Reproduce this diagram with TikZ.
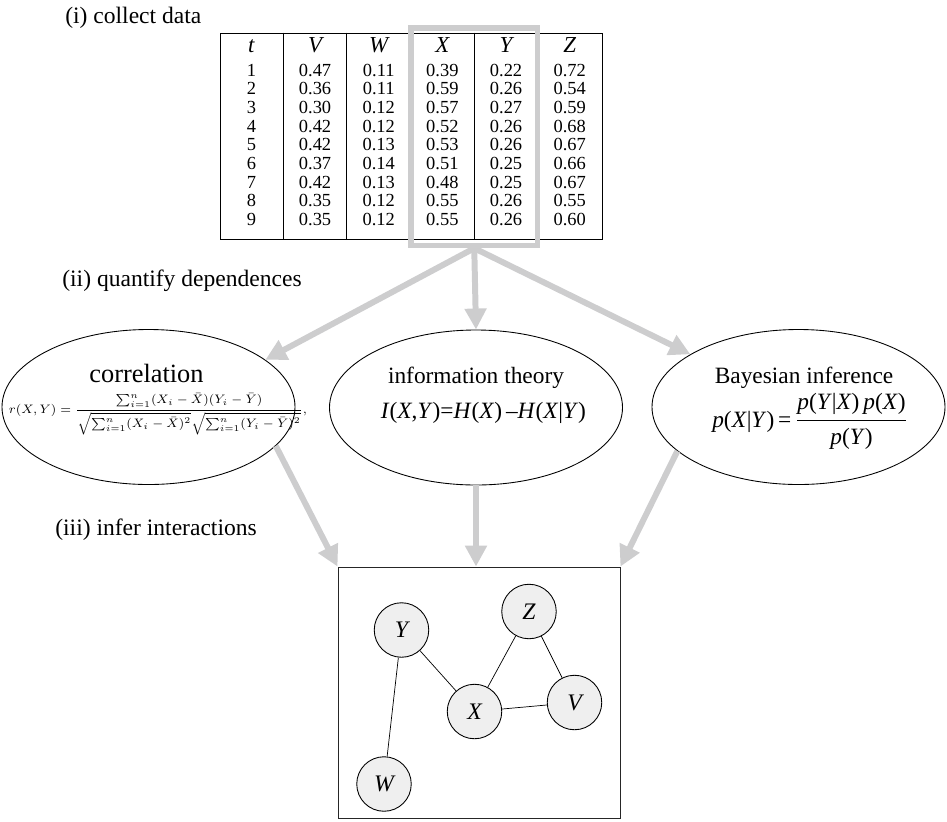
\documentclass[tikz,border=0pt]{standalone}
\usepackage{amsmath}
\usepackage{fontspec}
\setmainfont{Liberation Serif}
\usetikzlibrary{arrows.meta, shapes.geometric, calc}

\definecolor{flowgray}{RGB}{205,205,206}
\definecolor{vargray}{RGB}{239,239,239}
\newcommand{\iv}[1]{\textit{#1}}

\tikzset{
  flow/.style={draw=flowgray, line width=3.4pt, -{Triangle[length=0.42cm, width=0.42cm]}},
  method/.style={ellipse, draw, line width=0.5pt, minimum width=5.86cm, minimum height=3.1cm, inner sep=0pt},
  var/.style={circle, draw, line width=0.5pt, fill=vargray, minimum size=1.09cm, inner sep=0pt, font=\fontsize{13.5}{15}\selectfont\itshape},
  stage/.style={anchor=base west, inner sep=0pt, font=\fontsize{13.4}{16}\selectfont},
  cell/.style={anchor=base, inner sep=0pt, font=\fontsize{10.5}{12}\selectfont},
  title/.style={anchor=base, inner sep=0pt, font=\fontsize{13.3}{16}\selectfont},
}

\begin{document}
\begin{tikzpicture}
    \useasboundingbox (0,0) rectangle (18.94,-16.42);
    \node[stage] (collect) at (1.30,-0.47) {(i) collect data};
    \node[stage] (quantify) at (1.24,-5.73) {(ii) quantify dependences};
    \node[stage] (infer) at (1.10,-10.70) {(iii) infer interactions};

    \node[draw, line width=0.5pt, minimum width=7.64cm, minimum height=4.12cm, inner sep=0pt] (data) at (8.22,-2.72) {};
    \foreach \k in {1,...,5}
      \draw[line width=0.5pt] ($(data.north west)+(\k*1.2733,0)$) -- ($(data.south west)+(\k*1.2733,0)$);
    \foreach \h [count=\c] in {t,V,W,X,Y,Z}
      \node[cell, font=\fontsize{13}{14}\selectfont\itshape] (head-\c) at ($(data.north west)+({\c*1.2733-0.6367},-0.40)$) {\h};
    \foreach \row [count=\r] in {{1,0.47,0.11,0.39,0.22,0.72},{2,0.36,0.11,0.59,0.26,0.54},{3,0.30,0.12,0.57,0.27,0.59},{4,0.42,0.12,0.52,0.26,0.68},{5,0.42,0.13,0.53,0.26,0.67},{6,0.37,0.14,0.51,0.25,0.66},{7,0.42,0.13,0.48,0.25,0.67},{8,0.35,0.12,0.55,0.26,0.55},{9,0.35,0.12,0.55,0.26,0.60}}
      \foreach \val [count=\c] in \row
        \node[cell] (cell-\r-\c) at ($(data.north west)+({\c*1.2733-0.6367},{-0.5007-\r*0.3733})$) {\val};
    \node[draw=flowgray, line width=3.1pt, minimum width=2.53cm, minimum height=4.35cm, inner sep=0pt] (sel) at (9.485,-2.735) {};

    \node[method] (corr) at (2.97,-8.14) {};
    \node[method] (info) at (9.52,-8.15) {};
    \node[method] (bayes) at (15.97,-8.14) {};
    \node[title, font=\fontsize{15}{18}\selectfont] (corrname) at (2.93,-7.64) {correlation};
    \node[title, font=\fontsize{7}{8}\selectfont] (corrfml) at (3.16,-8.26)
      {$r(X,Y)=\dfrac{\sum_{i=1}^{n}(X_i-\bar{X})(Y_i-\bar{Y})}{\sqrt{\sum_{i=1}^{n}(X_i-\bar{X})^2}\sqrt{\sum_{i=1}^{n}(Y_i-\bar{Y})^2}},$};
    \node[title] (infoname) at (9.52,-7.66) {information theory};
    \node[title] (infofml) at (9.67,-8.36) {\iv{I}(\iv{X},\iv{Y})=\iv{H}(\iv{X})\,–\iv{H}(\iv{X}|\iv{Y})};
    \node[title] (bayesname) at (16.08,-7.66) {Bayesian inference};
    \node[title] (bayesfml) at (16.2,-8.54) {\iv{p}(\iv{X}|\iv{Y})\,=\,$\dfrac{\text{\iv{p}(\iv{Y}|\iv{X})\,\iv{p}(\iv{X})}}{\text{\iv{p}(\iv{Y})}}$};

    \node[draw=black!85, line width=0.5pt, minimum width=5.64cm, minimum height=5.02cm, inner sep=0pt] (graph) at (9.58,-13.85) {};
    \node[var] (Y) at ($(graph)+(-1.55,1.25)$) {Y};
    \node[var] (Z) at ($(graph)+(1.0,1.62)$) {Z};
    \node[var] (X) at ($(graph)+(-0.09,-0.38)$) {X};
    \node[var] (V) at ($(graph)+(1.91,-0.20)$) {V};
    \node[var] (W) at ($(graph)+(-1.90,-1.83)$) {W};
    \draw (Y) -- (W);
    \draw (Y) -- (X);
    \draw (X) -- (Z);
    \draw (Z) -- (V);
    \draw (X) -- (V);

    \draw[flow] (sel.south) -- (corr.22);
    \draw[flow] (sel.south) -- (info.north);
    \draw[flow] (sel.south) -- (bayes.154);
    \draw[flow] (corr.-17) -- (graph.north west);
    \draw[flow] (info.south) -- (info.south |- graph.north);
    \draw[flow] (bayes.-160) -- (graph.north east);
  \end{tikzpicture}
\end{document}
